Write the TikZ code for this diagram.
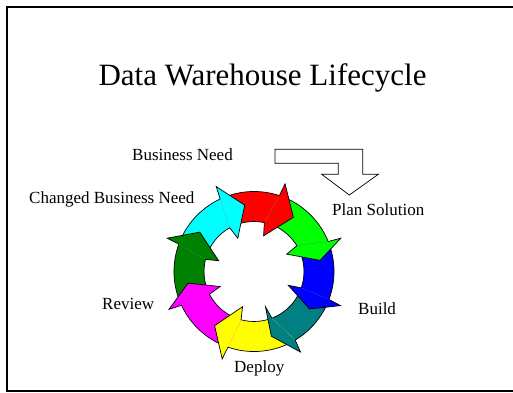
\documentclass[tikz,border=0pt]{standalone}
\usepackage{fontspec}
\setmainfont{Liberation Serif}

\definecolor{ringcyan}{RGB}{0,255,255}
\definecolor{ringred}{RGB}{255,0,0}
\definecolor{ringgreen}{RGB}{0,255,0}
\definecolor{ringblue}{RGB}{0,0,255}
\definecolor{ringteal}{RGB}{0,128,128}
\definecolor{ringyellow}{RGB}{255,255,0}
\definecolor{ringmagenta}{RGB}{255,0,255}
\definecolor{ringdarkgreen}{RGB}{0,128,0}

% one piece of the ring: colour, outer from/to, inner from/to
\newcommand{\cyclebody}[5]{%
  \fill[#1] (#2:80pt) arc[start angle=#2,end angle=#3,radius=80pt]
    -- (#5:50pt) arc[start angle=#5,end angle=#4,radius=50pt] -- cycle;}
% head of one piece: colour, base out, wing out, tip, wing in, base in
\newcommand{\cyclehead}[6]{%
  \fill[#1] (#2:80pt) -- (#3:93pt) -- (#4:67pt) -- (#5:37pt) -- (#6:50pt) -- cycle;
  \draw[ring] (#2:80pt) -- (#3:93pt) -- (#4:67pt) -- (#5:37pt) -- (#6:50pt);}

\tikzset{
  ring/.style={draw=black,line width=0.7pt},
  lbl/.style={inner sep=0pt,anchor=base west,font=\fontsize{17}{20}\selectfont},
}

\begin{document}
\begin{tikzpicture}[x=1pt,y=1pt]
\useasboundingbox (0,0) rectangle (513,392);
\draw[line width=2pt] (520,384.5) -- (7.3,384.5) -- (7.3,0.7) -- (520,0.7);

\node(title)[inner sep=0pt,anchor=base,font=\fontsize{31}{36}\selectfont] at (262.5,306.5){Data Warehouse Lifecycle};

\node(need)[lbl] at (132,232){Business Need};
\node(changed)[lbl] at (29,189){Changed Business Need};
\node(plan)[lbl] at (332,177){Plan Solution};
\node(build)[lbl] at (358,78){Build};
\node(review)[lbl] at (102,83){Review};
\node(deploy)[lbl] at (234,19.5){Deploy};

% bent arrow from the business need
\draw[ring,fill=white] (275,242.7) -- (362.7,242.7) -- (362.7,217.7) -- (378.3,217.7)
  -- (349.3,197) -- (321.7,217.7) -- (338.3,217.7) -- (338.3,228.7) -- (275,228.7) -- cycle;

\begin{scope}[shift={(254,120.5)}]
\cyclebody{ringcyan}{160}{115}{166}{119}
\cyclebody{ringred}{115}{71.5}{119}{78}
\cyclebody{ringgreen}{71.5}{22}{78}{31}
\cyclebody{ringblue}{22}{-20.5}{31}{-19}
\cyclebody{ringteal}{-20.5}{-59}{-19}{-69}
\cyclebody{ringyellow}{-59}{-109}{-69}{-105}
\cyclebody{ringmagenta}{-109}{-155}{-105}{-153}
\cyclebody{ringdarkgreen}{-155}{-200}{-153}{-194}
\draw[ring] (0,0) circle[radius=80pt];
\draw[ring] (0,0) circle[radius=50pt];
\cyclehead{ringcyan}{115}{114}{98}{116}{119}
\cyclehead{ringred}{71.5}{70.5}{54}{75}{78}
\cyclehead{ringgreen}{22}{21}{9.6}{28}{31}
\cyclehead{ringblue}{-20.5}{-21.5}{-34}{-22}{-19}
\cyclehead{ringteal}{-59}{-60}{-75}{-72}{-69}
\cyclehead{ringyellow}{-109}{-110}{-126}{-108}{-105}
\cyclehead{ringmagenta}{-155}{-156}{-170}{-156}{-153}
\cyclehead{ringdarkgreen}{-200}{-201}{-216}{-197}{-194}
\end{scope}
\end{tikzpicture}
\end{document}
